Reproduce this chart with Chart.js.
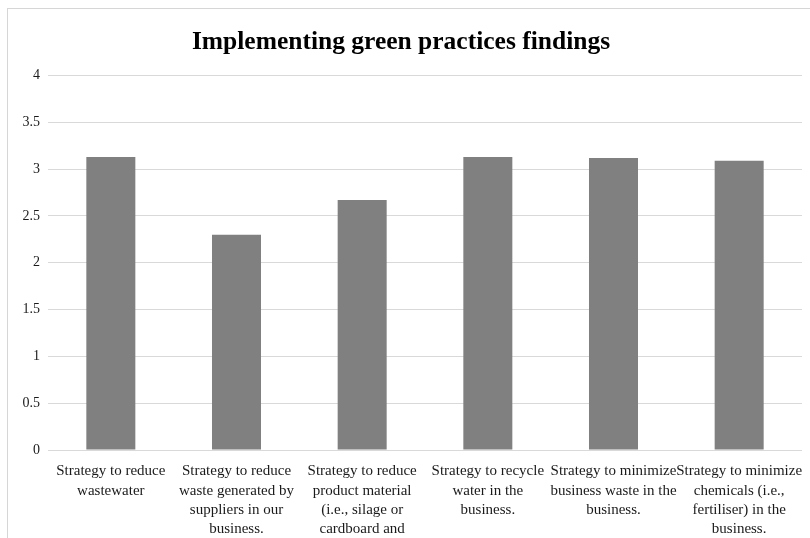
<!DOCTYPE html>
<html>
<head>
<meta charset="utf-8">
<script src="https://cdn.jsdelivr.net/npm/chart.js@4/dist/chart.umd.min.js"></script>
<style>
  html, body { margin: 0; padding: 0; background: #fff; overflow: hidden; }
  #wrap { position: relative; width: 810px; height: 548px; }
  #frame {
    position: absolute; left: 7px; top: 8px; right: -2px; bottom: -2px;
    border-top: 1px solid #d6d6d6; border-left: 1px solid #d6d6d6;
    pointer-events: none;
  }
</style>
</head>
<body>
<div id="wrap">
  <canvas id="greenChart" width="810" height="548"></canvas>
  <div id="frame"></div>
</div>
<script>
// Mean scores per strategy
const strategies = [
  ["Strategy to reduce", "wastewater"],
  ["Strategy to reduce", "waste generated by", "suppliers in our", "business."],
  ["Strategy to reduce", "product material", "(i.e., silage or", "cardboard and"],
  ["Strategy to recycle", "water in the", "business."],
  ["Strategy to minimize", "business waste in the", "business."],
  ["Strategy to minimize", "chemicals (i.e.,", "fertiliser) in the", "business."]
];
const scores = [3.13, 2.30, 2.67, 3.13, 3.12, 3.09];
const yTicks = [0, 0.5, 1, 1.5, 2, 2.5, 3, 3.5, 4];

const serif = "'Liberation Serif', 'Times New Roman', serif";

const ctx = document.getElementById("greenChart").getContext("2d");
new Chart(ctx, {
  type: "bar",
  data: {
    labels: strategies,
    datasets: [
      {
        data: scores,
        backgroundColor: "#808080",
        borderWidth: 0,
        categoryPercentage: 1,
        barPercentage: 0.39
      }
    ]
  },
  options: {
    responsive: false,
    animation: false,
    layout: { padding: { left: 0, right: 8, top: 0, bottom: 0 } },
    plugins: {
      legend: { display: false },
      tooltip: { enabled: false },
      title: {
        display: true,
        text: "Implementing green practices findings",
        color: "#000",
        font: { family: serif, size: 25.5, weight: "bold", lineHeight: 1.2 },
        padding: { top: 27, bottom: 18 }
      }
    },
    scales: {
      x: {
        grid: { display: false, drawTicks: false },
        border: { display: false },
        ticks: {
          color: "#1a1a1a",
          font: { family: serif, size: 15, lineHeight: 1.27 },
          padding: 12,
          maxRotation: 0,
          minRotation: 0,
          autoSkip: false
        },
        afterFit: s => {
          s.height = 98;
          // long labels may spill past the plot edges
          s.paddingLeft = 0;
          s.paddingRight = 0;
        }
      },
      y: {
        min: 0,
        max: 4,
        afterBuildTicks: s => { s.ticks = yTicks.map(v => ({ value: v })); },
        grid: { color: "#d9d9d9", lineWidth: 1, drawTicks: false },
        border: { display: false },
        ticks: {
          color: "#1a1a1a",
          font: { family: serif, size: 14 },
          padding: 8,
          callback: v => String(v)
        },
        afterFit: s => { s.width = 48; }
      }
    }
  }
});
</script>
</body>
</html>
